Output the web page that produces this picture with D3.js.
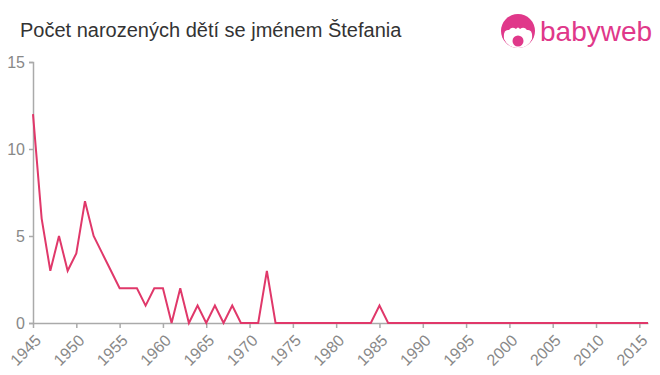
<!DOCTYPE html>
<html lang="cs">
<head>
<meta charset="utf-8">
<title>Štefania</title>
<script src="https://d3js.org/d3.v7.min.js"></script>
<style>
body { margin: 0; background: #fff; }
text { font-family: "Liberation Sans", Arial, sans-serif; }
</style>
</head>
<body>
<script>
var w = 660, h = 375;
var margin = {top: 62, right: 12, bottom: 52, left: 33};

var years = d3.range(1945, 2017);
var counts = [12, 6, 3, 5, 3, 4, 7, 5, 4, 3,   // 1945-1954
              2, 2, 2, 1, 2, 2, 0, 2, 0, 1,      // 1955-1964
              0, 1, 0, 1, 0, 0, 0, 3, 0, 0,      // 1965-1974
              0, 0, 0, 0, 0, 0, 0, 0, 0, 0,      // 1975-1984
              1, 0, 0, 0, 0, 0, 0, 0, 0, 0,      // 1985-1994
              0, 0, 0, 0, 0, 0, 0, 0, 0, 0,      // 1995-2004
              0, 0, 0, 0, 0, 0, 0, 0, 0, 0,      // 2005-2014
              0, 0];                              // 2015-2016
var xTicks = d3.range(1945, 2016, 5);
var yTicks = [0, 5, 10, 15];

var svg = d3.select("body").append("svg")
    .attr("width", w)
    .attr("height", h);

var x = d3.scaleLinear().domain([1945, 2016]).range([margin.left, w - margin.right]);
var y = d3.scaleLinear().domain([0, 15]).range([h - margin.bottom, margin.top]);

// title
svg.append("text")
    .attr("x", 20).attr("y", 37)
    .attr("font-size", 20)
    .attr("fill", "#333")
    .text("Počet narozených dětí se jménem Štefania");

// logo
var pink = "#e0388a";
var logo = svg.append("g").attr("transform", "translate(518,31)");
logo.append("circle").attr("r", 17).attr("fill", pink);
// face cut-out
logo.append("path")
    .attr("d", "M-14,8 Q-15,-2 -9,-1 Q-6,-5 -2,-2 Q0,-5 2,-2 Q6,-5 9,-1 Q15,-2 14,8 Q10,17 0,17 Q-10,17 -14,8 Z")
    .attr("fill", "#fff");
logo.append("circle").attr("cy", 10).attr("r", 5.5).attr("fill", pink);
logo.append("text")
    .attr("x", 22).attr("y", 10)
    .attr("font-size", 28)
    .attr("fill", pink)
    .text("babyweb");

// axes
var yAxis = svg.append("g")
    .attr("transform", "translate(" + margin.left + ",0)")
    .call(d3.axisLeft(y).tickValues(yTicks).tickSize(4).tickPadding(4));
var xAxis = svg.append("g")
    .attr("transform", "translate(0," + (h - margin.bottom) + ")")
    .call(d3.axisBottom(x).tickValues(xTicks).tickFormat(d3.format("d")).tickSize(5).tickSizeOuter(0));

svg.selectAll(".domain, .tick line").attr("stroke", "#aaa").attr("stroke-width", 1.5);
yAxis.selectAll("text").style("font-size", "16px").attr("fill", "#888");
xAxis.selectAll("text")
    .style("font-size", "16px").attr("fill", "#888")
    .attr("text-anchor", "end")
    .attr("dy", "1.2em")
    .attr("transform", "rotate(-45)")
    .attr("y", 0).attr("x", -7);

// line
var line = d3.line()
    .x(function(d, i) { return x(years[i]); })
    .y(function(d) { return y(d); });

svg.append("path")
    .datum(counts)
    .attr("fill", "none")
    .attr("stroke", "#e0386a")
    .attr("stroke-width", 2)
    .attr("d", line);
</script>
</body>
</html>
